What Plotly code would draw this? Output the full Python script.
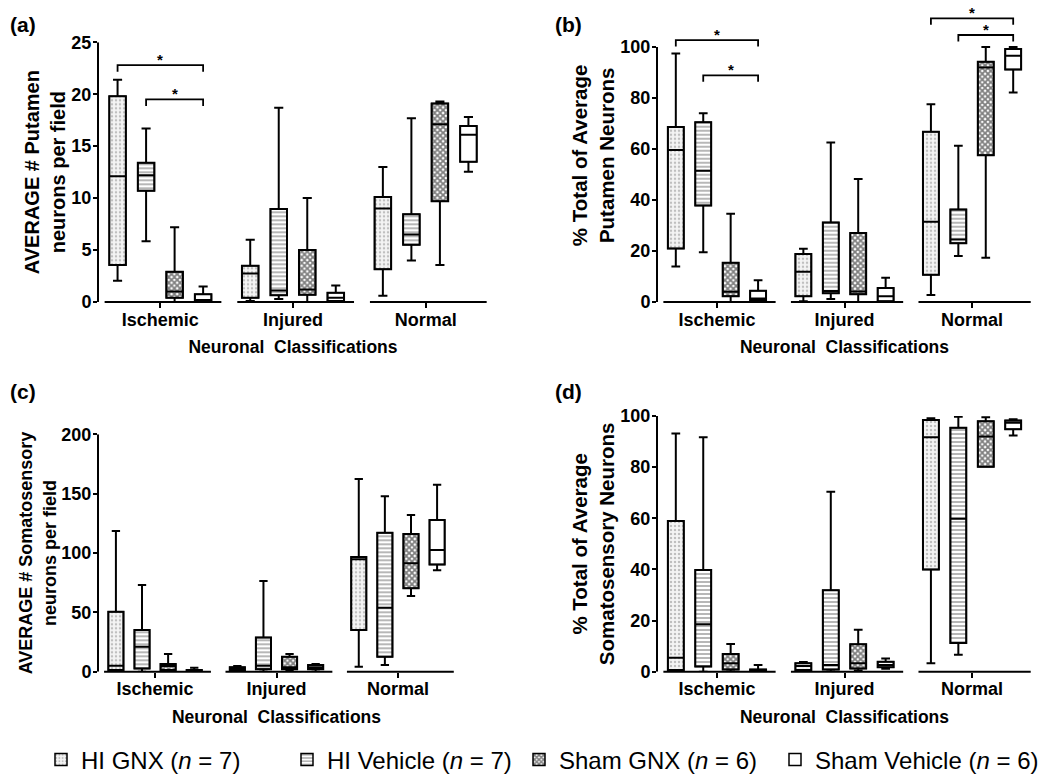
import plotly.graph_objects as go

# categorias e grupos
categorias = ["Ischemic", "Injured", "Normal"]
grupos = ["HI GNX", "HI Vehicle", "Sham GNX", "Sham Vehicle"]
legenda = ["HI GNX (<i>n</i> = 7)", "HI Vehicle (<i>n</i> = 7)",
           "Sham GNX (<i>n</i> = 6)", "Sham Vehicle (<i>n</i> = 6)"]

# (a) AVERAGE # Putamen neurons per field  -> linhas = grupos, colunas = categorias
a_max = [[21.4, 6.0, 13.0], [16.7, 18.7, 17.7], [7.2, 10.0, 19.3], [1.5, 1.6, 17.8]]
a_q3 = [[19.8, 3.5, 10.1], [13.4, 8.95, 8.45], [2.9, 5.0, 19.1], [0.75, 0.9, 16.95]]
a_med = [[12.1, 2.75, 9.0], [12.2, 1.1, 6.5], [1.0, 1.2, 17.1], [0.2, 0.4, 16.1]]
a_q1 = [[3.55, 0.4, 3.15], [10.7, 0.65, 5.5], [0.4, 0.7, 9.7], [0.1, 0.1, 13.5]]
a_min = [[2.05, 0.1, 0.6], [5.85, 0.3, 4.0], [0.0, 0.0, 3.55], [0.0, 0.0, 12.55]]

# (b) % Total of Average Putamen Neurons
b_max = [[97.5, 20.9, 77.5], [74.0, 62.5, 61.3], [34.6, 48.2, 100.0], [8.5, 9.5, 100.0]]
b_q3 = [[68.6, 18.8, 66.8], [70.5, 31.2, 36.3], [15.4, 27.1, 94.2], [4.4, 5.5, 99.2]]
b_med = [[59.6, 11.9, 31.5], [51.5, 4.3, 24.5], [4.0, 4.1, 92.0], [1.4, 2.3, 96.6]]
b_q1 = [[21.0, 2.3, 10.7], [37.8, 3.4, 23.0], [2.3, 3.0, 57.5], [0.8, 0.3, 91.2]]
b_min = [[13.9, 0.3, 2.7], [19.5, 1.2, 18.0], [0.0, 0.0, 17.4], [0.0, 0.0, 82.2]]

# (c) AVERAGE # Somatosensory neurons per field
c_max = [[118.5, 4.8, 162.4], [73.0, 76.4, 147.8], [14.9, 14.9, 132.0], [3.4, 6.5, 157.6]]
c_q3 = [[50.6, 3.7, 96.6], [35.1, 28.9, 117.1], [6.5, 12.6, 116.0], [1.4, 5.6, 127.8]]
c_med = [[5.1, 2.0, 94.7], [21.1, 5.1, 53.9], [4.8, 3.7, 91.3], [0.8, 3.7, 102.5]]
c_q1 = [[1.4, 0.8, 35.1], [2.8, 2.0, 12.6], [1.4, 2.0, 70.2], [0.3, 2.0, 90.4]]
c_min = [[0.0, 0.0, 4.2], [0.0, 0.0, 5.6], [0.0, 0.8, 63.8], [0.0, 0.0, 85.4]]

# (d) % Total of Average Somatosensory Neurons
d_max = [[93.2, 3.8, 99.1], [91.7, 70.4, 99.7], [10.8, 16.4, 99.5], [2.6, 5.2, 98.7]]
d_q3 = [[58.9, 3.3, 98.4], [39.8, 31.9, 95.4], [6.9, 10.7, 97.9], [0.9, 3.9, 98.2]]
d_med = [[5.5, 2.2, 91.7], [18.6, 2.6, 59.8], [3.3, 3.3, 92.0], [0.65, 2.6, 97.4]]
d_q1 = [[0.65, 0.65, 40.0], [2.0, 0.9, 11.2], [0.9, 1.3, 80.2], [0.3, 1.7, 94.8]]
d_min = [[0.0, 0.3, 3.3], [0.0, 0.0, 6.6], [0.0, 0.4, 80.2], [0.0, 1.2, 92.4]]

# significancia: (painel, categoria, grupo inicial, grupo final, altura do colchete)
colchetes = [
    ("a", 0, 0, 3, 22.8), ("a", 0, 1, 3, 19.5),
    ("b", 0, 0, 3, 102.7), ("b", 0, 1, 3, 88.9),
    ("b", 2, 0, 3, 111.2), ("b", 2, 1, 3, 104.7),
]

# posicoes em pixels na pagina (o body do html tem margem de 8 px)
W, H, OFF = 1050, 782, 8


def px_x(px):
    return (px - OFF) / W


def px_y(py):
    return 1 - (py - OFF) / H


def dominio_y(y_zero, y_tick, tick_max, faixa_max):
    topo = y_zero - (y_zero - y_tick) * faixa_max / tick_max
    return [px_y(y_zero), px_y(topo)]


paineis = {
    "a": dict(dados=(a_min, a_q1, a_med, a_q3, a_max), eixo="", dom_x=[px_x(98), px_x(488)],
              dom_y=dominio_y(302, 42.3, 25, 25), faixa=[0, 25], ticks=[0, 5, 10, 15, 20, 25],
              titulo="AVERAGE # Putamen<br>neurons per field", tsize=20),
    "b": dict(dados=(b_min, b_q1, b_med, b_q3, b_max), eixo="2", dom_x=[px_x(657), px_x(1032)],
              dom_y=dominio_y(302, 47, 100, 115), faixa=[0, 115], ticks=[0, 20, 40, 60, 80, 100],
              titulo="% Total of Average<br>Putamen Neurons", tsize=20.5),
    "c": dict(dados=(c_min, c_q1, c_med, c_q3, c_max), eixo="3", dom_x=[px_x(98), px_x(455)],
              dom_y=dominio_y(671.7, 434.3, 200, 200), faixa=[0, 200], ticks=[0, 50, 100, 150, 200],
              titulo="AVERAGE # Somatosensory<br>neurons per field", tsize=18),
    "d": dict(dados=(d_min, d_q1, d_med, d_q3, d_max), eixo="4", dom_x=[px_x(657), px_x(1032)],
              dom_y=dominio_y(671.7, 416, 100, 100), faixa=[0, 100], ticks=[0, 20, 40, 60, 80, 100],
              titulo="% Total of Average<br>Somatosensory Neurons", tsize=20.5),
}

padroes = [
    dict(shape=".", size=4, solidity=0.3, fgcolor="#8a8a8a", bgcolor="#f4f4f4"),
    dict(shape="-", size=4, solidity=0.4, fgcolor="#4a4a4a", bgcolor="white"),
    dict(shape="x", size=4, solidity=0.7, fgcolor="black", bgcolor="white"),
    dict(shape="", fgcolor="white", bgcolor="white"),
]

# uma legenda por grupo, para posicionar cada item como no original
legendas_ids = ["legend", "legend2", "legend3", "legend4"]
legendas_x = [41, 287, 519, 775]

GAP = 0.14
GROUPGAP = 0.42
FAIXA_X = [-0.47, 2.47]
FONTE = "Liberation Sans, Arial, sans-serif"
posicoes = list(range(len(categorias)))

fig = go.Figure()
shapes = []
anotacoes = []

for chave, p in paineis.items():
    vmin, vq1, vmed, vq3, vmax = p["dados"]
    xa, ya = "x" + p["eixo"], "y" + p["eixo"]
    for i, grupo in enumerate(grupos):
        # corpo da caixa com hachura (barra de q1 a q3)
        fig.add_trace(go.Bar(
            x=posicoes, y=[t - b for t, b in zip(vq3[i], vq1[i])], base=vq1[i],
            name=legenda[i], legendgroup=grupo, showlegend=(chave == "a"), legend=legendas_ids[i],
            alignmentgroup=chave, offsetgroup=grupo,
            marker=dict(color="white", pattern=padroes[i], line=dict(color="black", width=1.5)),
            xaxis=xa, yaxis=ya, hoverinfo="skip",
        ))
        fig.add_trace(go.Box(
            x=posicoes, lowerfence=vmin[i], q1=vq1[i], median=vmed[i], q3=vq3[i], upperfence=vmax[i],
            name=grupo, legendgroup=grupo, showlegend=False, boxpoints=False,
            alignmentgroup=chave, offsetgroup=grupo,
            fillcolor="rgba(0,0,0,0)", line=dict(color="black", width=2), whiskerwidth=0.55,
            xaxis=xa, yaxis=ya, hoverinfo="skip",
        ))
    # eixo x quebrado em segmentos por categoria
    for c in posicoes:
        shapes.append(dict(type="line", xref=xa, yref=ya + " domain", x0=max(c - 0.42, FAIXA_X[0]), x1=c + 0.46,
                           y0=0, y1=0, line=dict(color="black", width=2)))
    # eixo y so ate o ultimo tick
    shapes.append(dict(type="line", xref=xa + " domain", yref=ya, x0=0, x1=0, y0=0, y1=p["ticks"][-1],
                       line=dict(color="black", width=2)))

# colchetes de significancia
for painel, cat, g0, g1, nivel in colchetes:
    p = paineis[painel]
    xa, ya = "x" + p["eixo"], "y" + p["eixo"]
    deslocar = lambda g: cat + (1 - GAP) * (-0.5 + (g + 0.5) / len(grupos))
    x0, x1 = deslocar(g0), deslocar(g1)
    queda = 0.025 * p["ticks"][-1]
    shapes.append(dict(type="path", xref=xa, yref=ya,
                       path=f"M{x0},{nivel - queda} L{x0},{nivel} L{x1},{nivel} L{x1},{nivel - queda}",
                       line=dict(color="black", width=1.8)))
    anotacoes.append(dict(x=(x0 + x1) / 2, y=nivel, xref=xa, yref=ya, text="<b>*</b>", showarrow=False,
                          yanchor="bottom", yshift=-5, font=dict(family=FONTE, size=15, color="black")))

# rotulos dos paineis
for texto, x, y in [("(a)", 8, 24), ("(b)", 553, 24), ("(c)", 8, 391), ("(d)", 553, 391)]:
    anotacoes.append(dict(x=px_x(x), y=px_y(y), xref="paper", yref="paper", text=f"<b>{texto}</b>",
                          showarrow=False, xanchor="left", yanchor="middle",
                          font=dict(family=FONTE, size=21, color="black")))

layout = dict(
    width=W, height=H, margin=dict(l=0, r=0, t=0, b=0, autoexpand=False),
    paper_bgcolor="white", plot_bgcolor="white",
    barmode="group", bargap=GAP, bargroupgap=GROUPGAP,
    boxmode="group", boxgap=GAP, boxgroupgap=GROUPGAP,
    shapes=shapes, annotations=anotacoes,
)
for lid, lx in zip(legendas_ids, legendas_x):
    layout[lid] = dict(orientation="h", x=px_x(lx), xanchor="left", y=px_y(760), yanchor="middle",
                       font=dict(family=FONTE, size=24, color="black"), itemwidth=30,
                       bgcolor="rgba(0,0,0,0)")
for chave, p in paineis.items():
    sufixo = p["eixo"]
    layout["xaxis" + sufixo] = dict(
        domain=p["dom_x"], anchor="y" + sufixo, range=FAIXA_X, showline=False, showgrid=False, zeroline=False,
        tickmode="array", tickvals=posicoes, ticktext=categorias, ticks="outside", ticklen=5, tickwidth=2,
        tickcolor="black", ticklabelstandoff=-4, tickfont=dict(family=FONTE, size=18, color="black", weight="bold"),
        title=dict(text="Neuronal  Classifications", standoff=12,
                   font=dict(family=FONTE, size=17.5, color="black", weight="bold")),
    )
    layout["yaxis" + sufixo] = dict(
        domain=p["dom_y"], anchor="x" + sufixo, range=p["faixa"], showline=False, showgrid=False, zeroline=False,
        tickmode="array", tickvals=p["ticks"], ticks="outside", ticklen=4, tickwidth=2, tickcolor="black",
        ticklabelstandoff=-2, tickfont=dict(family=FONTE, size=18, color="black", weight="bold"),
        title=dict(text=p["titulo"], standoff=0, font=dict(family=FONTE, size=p["tsize"], color="black", weight="bold")),
    )

fig.update_layout(layout)
fig.write_html("out.html")
